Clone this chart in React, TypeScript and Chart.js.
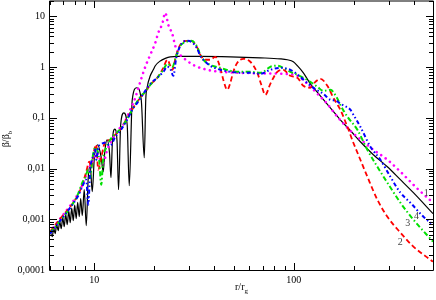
import React, { useEffect, useRef } from "react";
import { Chart, registerables } from "chart.js";

Chart.register(...registerables);

// r / r_g  and  beta / beta_b  for each curve
const blackR = [6.01, 6.16, 6.26, 6.37, 6.48, 6.6, 6.71, 6.83, 6.95, 7.07, 7.19, 7.32, 7.45, 7.58, 7.71, 7.85, 7.98, 8.12, 8.26, 8.41, 8.55, 8.71, 8.91, 9.12, 9.33, 9.55, 9.77,
  10.02, 10.41, 10.82, 11.1, 11.29, 11.59, 11.92, 12.13, 12.34, 12.68, 13.01, 13.24, 13.57, 14.08, 14.63, 14.98, 15.51, 16.34, 17.21, 17.82,
  18.13, 18.45, 19.1, 19.77, 20.24, 21.44, 22.71, 24.07, 26.09, 34.03, 48.13, 68.08, 85.77, 92.98, 99.65, 104.4, 111.9, 121.3, 136.1, 152.8, 171.5, 197.0, 216.1, 251.1, 295.2, 343.1, 398.7, 500];
const blackB = [0.00057, 0.000455, 0.000668, 0.000521, 0.000783, 0.000596, 0.000918, 0.000653, 0.001075, 0.000715, 0.00126, 0.000783, 0.001443, 0.000857, 0.001654, 0.000939, 0.001895, 0.00103, 0.00215, 0.00112, 0.00254, 0.00118, 0.00383, 0.000748, 0.00659, 0.01135, 0.00349,
  0.0171, 0.0294, 0.0171, 0.00865, 0.021, 0.0369, 0.021, 0.00659, 0.0352, 0.0597, 0.0352, 0.00383, 0.0728, 0.125, 0.0728, 0.00459, 0.226, 0.39, 0.226, 0.0163,
  0.226, 0.408, 0.671, 0.881, 1.06, 1.32, 1.48, 1.59, 1.62, 1.62, 1.59, 1.52, 1.45, 1.39, 1.27, 1.06, 0.769, 0.467, 0.271, 0.157, 0.0913, 0.0507, 0.0337, 0.0187, 0.0108, 0.00602, 0.00334, 0.00129];

const magentaR = [6.01, 6.75, 7.76, 8.51, 9.12, 9.55, 10, 10.35, 10.72, 11.1, 11.62, 12.45, 13.19, 13.98, 15.16, 16.06, 17.02, 18.03, 19.1, 20.24, 20.95, 21.94, 22.71, 23.52, 24.63, 25.49, 26.4, 27.64, 31.38, 36.9, 42.88, 54.02, 68.08, 88.79, 104.4, 115.8, 134.6, 145.9, 165.7, 192.5, 223.7, 251.1, 295.2, 343.1, 412.8, 500];
const magentaB = [0.00057, 0.00103, 0.00212, 0.00383, 0.00755, 0.01135, 0.0163, 0.0205, 0.0149, 0.013, 0.0234, 0.0404, 0.058, 0.0728, 0.144, 0.248, 0.511, 1.01, 1.74, 3.0, 4.71, 7.09, 11.67, 6.77, 4.5, 2.61, 1.9, 1.59, 1.1, 0.881, 0.804, 0.769, 0.751, 0.735, 0.671, 0.489, 0.271, 0.197, 0.105, 0.0555, 0.0337, 0.0234, 0.0149, 0.00865, 0.00419, 0.00212];

const redR = [6.01, 6.75, 7.58, 8.31, 8.71, 9.12, 9.44, 9.66, 9.89, 10.23, 10.47, 10.84, 11.35, 12.03, 12.75, 13.51, 14.64, 15.7, 17.02, 18.03, 19.1, 20.71, 22.2, 23.25, 24.07, 24.63, 25.79, 27.01, 28.94, 30.67, 32.87, 34.03, 36.06, 38.19, 40.47, 42.88, 44.4, 46.49, 48.13, 49.82, 52.18, 55.93, 60.65, 65.75, 68.87, 72.11, 76.41, 82.83, 88.79, 96.25, 104.4, 111.9, 121.3, 128.5, 136.1, 147.6, 158.2, 171.5, 186.0, 199.3, 216.1, 234.3, 263.0, 295.2, 343.1, 398.7, 500];
const redB = [0.00057, 0.00103, 0.00177, 0.00305, 0.0048, 0.00865, 0.0136, 0.0104, 0.0187, 0.0294, 0.00947, 0.0163, 0.0337, 0.0369, 0.0463, 0.058, 0.1, 0.157, 0.248, 0.325, 0.446, 0.613, 0.964, 1.39, 1.06, 0.881, 1.74, 2.74, 3.28, 3.28, 2.39, 1.74, 1.39, 1.39, 1.59, 0.964, 0.56, 0.356, 0.489, 0.804, 1.21, 1.45, 1.27, 0.769, 0.446, 0.284, 0.467, 0.804, 0.881, 0.671, 0.613, 0.427, 0.39, 0.511, 0.586, 0.427, 0.248, 0.144, 0.0665, 0.0322, 0.0149, 0.0069, 0.00243, 0.00112, 0.000545, 0.000289, 0.000146];

const greenR = [6.01, 6.75, 7.58, 8.31, 8.71, 9.01, 9.33, 9.55, 9.77, 10.12, 10.35, 10.59, 10.84, 11.1, 11.49, 12.03, 12.75, 13.51, 14.64, 15.7, 17.02, 18.03, 19.1, 20.71, 22.2, 23.25, 24.63, 25.79, 27.01, 28.94, 30.67, 32.87, 34.03, 36.06, 38.19, 42.88, 48.13, 54.02, 60.65, 68.08, 70.47, 76.41, 82.83, 88.79, 96.25, 104.4, 111.9, 121.3, 131.5, 140.9, 152.8, 163.8, 173.5, 186.0, 208.7, 234.3, 263.0, 295.2, 343.1, 398.7, 500];
const greenB = [0.000545, 0.000939, 0.00169, 0.00319, 0.00526, 0.00659, 0.00947, 0.00659, 0.0149, 0.0257, 0.0234, 0.0149, 0.0048, 0.0163, 0.0257, 0.0369, 0.0484, 0.0597, 0.0956, 0.157, 0.259, 0.325, 0.446, 0.613, 0.881, 1.156, 1.01, 1.66, 2.61, 3.13, 3.28, 2.5, 1.74, 1.27, 1.1, 0.964, 0.842, 0.804, 0.804, 0.769, 0.804, 1.01, 1.06, 0.964, 0.804, 0.702, 0.613, 0.511, 0.408, 0.34, 0.356, 0.259, 0.165, 0.105, 0.058, 0.0234, 0.0108, 0.00526, 0.00212, 0.000982, 0.000362];

const blueR = [6.01, 6.75, 7.58, 8.31, 8.71, 9.12, 9.33, 9.55, 9.89, 10.12, 10.23, 10.47, 10.72, 11.35, 12.03, 12.75, 13.51, 14.81, 15.7, 16.44, 17.62, 19.1, 20.71, 22.2, 23.25, 24.07, 24.92, 25.79, 27.01, 28.94, 30.67, 32.87, 34.03, 36.06, 38.19, 42.88, 48.13, 54.02, 60.65, 68.08, 76.41, 85.77, 96.25, 108.0, 119.9, 130.0, 140.9, 152.8, 163.8, 171.5, 183.8, 192.5, 199.3, 216.1, 242.6, 272.3, 305.6, 343.1, 385.1, 447.6, 500];
const blueB = [0.000521, 0.000939, 0.00169, 0.00291, 0.00438, 0.00602, 0.00194, 0.00947, 0.01786, 0.0234, 0.0149, 0.0257, 0.0294, 0.0322, 0.0281, 0.0423, 0.0555, 0.1, 0.157, 0.197, 0.297, 0.467, 0.613, 0.804, 1.01, 0.922, 0.671, 1.52, 2.61, 3.28, 3.13, 2.28, 1.66, 1.27, 1.06, 0.881, 0.804, 0.769, 0.769, 0.735, 0.881, 0.964, 0.881, 0.641, 0.446, 0.356, 0.297, 0.226, 0.216, 0.1887, 0.165, 0.144, 0.115, 0.0665, 0.0269, 0.0149, 0.0069, 0.00334, 0.00212, 0.00112, 0.000783];

const xTickValues = [10, 100];
const xTickLabels = ["10", "100"];
const yTickValues = [0.0001, 0.001, 0.01, 0.1, 1, 10];
const yTickLabels = ["0,0001", "0,001", "0,01", "0,1", "1", "10"];

const curveLabels = ["1", "4", "3", "2"];
const curveLabelR = [463, 413, 374, 343];
const curveLabelB = [0.00319, 0.00112, 0.000819, 0.000346];

const FONT = '"Liberation Serif", "Times New Roman", serif';

const pts = (xs: number[], ys: number[]) => xs.map((x, i) => ({ x, y: ys[i] }));

const decorPlugin = {
  id: "decor",
  afterDatasetsDraw(chart: any) {
    const { ctx, chartArea: a, scales } = chart;
    const xs = scales.x;
    const ys = scales.y;
    ctx.save();
    ctx.strokeStyle = "#000";
    ctx.lineWidth = 1;
    const L = 49.5, R = 433.5, T = 1, B = 270.5;
    ctx.beginPath();
    ctx.moveTo(L, T); ctx.lineTo(R, T); ctx.lineTo(R, B); ctx.lineTo(L, B); ctx.closePath();
    ctx.stroke();

    // x ticks
    const xMinor: number[] = [];
    for (const d of [1, 10, 100]) for (let k = 2; k <= 9; k++) { const v = k * d; if (v >= 6 && v <= 500) xMinor.push(v); }
    const drawX = (v: number, len: number) => {
      const p = Math.round(xs.getPixelForValue(v)) + 0.5;
      ctx.beginPath();
      ctx.moveTo(p, 270); ctx.lineTo(p, 270 - len);
      ctx.moveTo(p, 1); ctx.lineTo(p, 1 + len);
      ctx.stroke();
    };
    xMinor.forEach((v) => drawX(v, 4));
    xTickValues.forEach((v) => drawX(v, 7));

    // y ticks
    const yMinor: number[] = [];
    for (const d of [0.0001, 0.001, 0.01, 0.1, 1, 10]) for (let k = 2; k <= 9; k++) { const v = k * d; if (v <= 20) yMinor.push(v); }
    const drawY = (v: number, len: number) => {
      const p = Math.round(ys.getPixelForValue(v)) + 0.5;
      ctx.beginPath();
      ctx.moveTo(50, p); ctx.lineTo(50 + len, p);
      ctx.moveTo(433, p); ctx.lineTo(433 - len, p);
      ctx.stroke();
    };
    yMinor.forEach((v) => drawY(v, 4));
    yTickValues.forEach((v) => drawY(v, 7));

    // curve labels
    ctx.fillStyle = "#444";
    ctx.font = `10px ${FONT}`;
    ctx.textAlign = "center";
    ctx.textBaseline = "middle";
    curveLabels.forEach((t, i) => {
      ctx.fillText(t, xs.getPixelForValue(curveLabelR[i]), ys.getPixelForValue(curveLabelB[i]));
    });

    // axis titles
    ctx.fillStyle = "#000";
    ctx.textAlign = "left";
    ctx.textBaseline = "alphabetic";
    ctx.font = `10px ${FONT}`;
    const w1 = ctx.measureText("r/r").width;
    ctx.font = `7px ${FONT}`;
    const w2 = ctx.measureText("g").width;
    const cx = (a.left + a.right) / 2;
    const sx = cx - (w1 + w2) / 2;
    ctx.font = `10px ${FONT}`;
    ctx.fillText("r/r", sx, 290);
    ctx.font = `7px ${FONT}`;
    ctx.fillText("g", sx + w1, 293);

    ctx.translate(9, 139);
    ctx.rotate(-Math.PI / 2);
    ctx.font = `10px ${FONT}`;
    const v1 = ctx.measureText("β/β").width;
    ctx.font = `7px ${FONT}`;
    const v2 = ctx.measureText("b").width;
    const sy = -(v1 + v2) / 2;
    ctx.font = `10px ${FONT}`;
    ctx.fillText("β/β", sy, 0);
    ctx.font = `7px ${FONT}`;
    ctx.fillText("b", sy + v1, 3);
    ctx.restore();
  },
};

export default function App() {
  const ref = useRef<HTMLCanvasElement | null>(null);
  useEffect(() => {
    if (!ref.current) return;
    const common = { pointRadius: 0, fill: false, cubicInterpolationMode: "monotone" as const };
    const chart = new Chart(ref.current, {
      type: "line",
      data: {
        datasets: [
          { ...common, label: "4", data: pts(blueR, blueB), borderColor: "#0000ff", borderWidth: 2, borderDash: [4, 2.5, 1.5, 2.5, 1.5, 2.5], order: 1 },
          { ...common, label: "3", data: pts(greenR, greenB), borderColor: "#00e000", borderWidth: 2, borderDash: [5, 2.5, 1.5, 2.5], order: 2 },
          { ...common, label: "2", data: pts(redR, redB), borderColor: "#ff0000", borderWidth: 1.8, borderDash: [5, 3], order: 3 },
          { ...common, label: "1m", data: pts(magentaR, magentaB), borderColor: "#ff00ff", borderWidth: 2.6, borderDash: [0.01, 5.5], borderCapStyle: "round", order: 4 },
          { ...common, label: "1", data: pts(blackR, blackB), borderColor: "#000000", borderWidth: 1.2, order: 5 },
        ],
      },
      options: {
        animation: false,
        responsive: false,
        maintainAspectRatio: false,
        layout: { padding: { left: 0, right: 3, top: 1, bottom: 0 } },
        plugins: { legend: { display: false }, tooltip: { enabled: false } },
        scales: {
          x: {
            type: "logarithmic",
            min: 6,
            max: 500,
            grid: { display: false, drawTicks: false },
            border: { display: false },
            afterBuildTicks: (s: any) => { s.ticks = xTickValues.map((v) => ({ value: v })); },
            afterFit: (s: any) => { s.height = 30; s.paddingLeft = 0; s.paddingRight = 0; },
            ticks: {
              autoSkip: false,
              maxRotation: 0,
              padding: 4,
              color: "#000",
              font: { family: FONT, size: 10 },
              callback: (_v: any, i: number) => xTickLabels[i],
            },
          },
          y: {
            type: "logarithmic",
            min: 0.0001,
            max: 20,
            grid: { display: false, drawTicks: false },
            border: { display: false },
            afterBuildTicks: (s: any) => { s.ticks = yTickValues.map((v) => ({ value: v })); },
            afterFit: (s: any) => { s.width = 50; s.paddingTop = 0; s.paddingBottom = 0; },
            ticks: {
              autoSkip: false,
              padding: 5,
              color: "#000",
              font: { family: FONT, size: 10 },
              callback: (_v: any, i: number) => yTickLabels[i],
            },
          },
        },
      },
      plugins: [decorPlugin],
    });
    return () => chart.destroy();
  }, []);
  return (
    <div style={{ position: "absolute", left: 0, top: 0, width: 436, height: 300, background: "#fff" }}>
      <canvas ref={ref} width={436} height={300} style={{ display: "block" }} />
    </div>
  );
}
